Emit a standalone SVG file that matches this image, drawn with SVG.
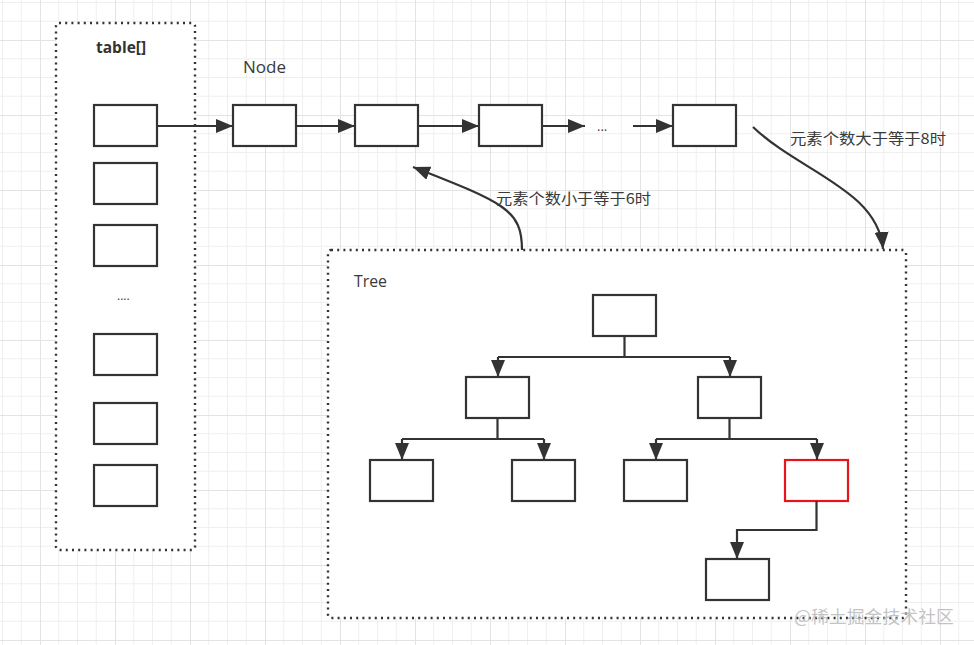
<svg xmlns="http://www.w3.org/2000/svg" width="974" height="645" viewBox="0 0 974 645">
<defs>
<pattern id="grid" x="40" y="40" width="75" height="75" patternUnits="userSpaceOnUse">
<path d="M18.75,0V75M37.5,0V75M56.25,0V75M0,18.75H75M0,37.5H75M0,56.25H75" stroke="#efefef" stroke-width="1" fill="none"/>
<path d="M0.5,0V75M0,0.5H75" stroke="#e3e3e3" stroke-width="1" fill="none"/>
</pattern>
<marker id="arr" markerUnits="userSpaceOnUse" markerWidth="18" markerHeight="14" refX="17" refY="7" orient="auto">
<path d="M0,0 L17,7 L0,14 z" fill="#333"/>
</marker>
<style>
.box{fill:#fff;stroke:#333;stroke-width:2.2}
.red{fill:#fff;stroke:#e8141b;stroke-width:2.2}
.group{fill:#fff;stroke:#333;stroke-width:2.4;stroke-dasharray:2 4.2}
.line{fill:none;stroke:#333;stroke-width:2.2}
.arrow{fill:none;stroke:#333;stroke-width:2.2;marker-end:url(#arr)}
.lbl{font-family:"Open Sans","Noto Sans",sans-serif;font-size:16px;fill:#3a3a3a}
.cjk{font-family:"Noto Sans CJK SC","Noto Sans",sans-serif;font-size:15px;fill:#3a3a3a}
</style>
</defs>
<rect width="974" height="645" fill="#fff"/>
<rect width="974" height="645" fill="url(#grid)"/>

<g id="table-group">
<rect class="group" x="56" y="23" width="139" height="527" rx="3"/>
<text x="96" y="53" style="font-family:'Open Sans','Noto Sans',sans-serif;font-size:15.5px;font-weight:bold;fill:#333">table[]</text>
</g>
<g id="table-0"><rect class="box" x="94" y="105" width="63" height="41"/></g>
<g id="table-1"><rect class="box" x="94" y="163" width="63" height="41"/></g>
<g id="table-2"><rect class="box" x="94" y="225" width="63" height="41"/></g>
<g id="table-dots"><text x="117" y="300" class="lbl" style="font-size:12px">....</text></g>
<g id="table-3"><rect class="box" x="94" y="334" width="63" height="41"/></g>
<g id="table-4"><rect class="box" x="94" y="403" width="63" height="41"/></g>
<g id="table-5"><rect class="box" x="94" y="465" width="63" height="41"/></g>

<g id="node-label"><text x="243" y="73" class="lbl" textLength="43" lengthAdjust="spacingAndGlyphs">Node</text></g>
<g id="node-1"><rect class="box" x="233" y="105" width="63" height="41"/></g>
<g id="node-2"><rect class="box" x="355" y="105" width="63" height="41"/></g>
<g id="node-3"><rect class="box" x="479" y="105" width="63" height="41"/></g>
<g id="node-ellipsis"><text x="597" y="131" class="lbl" style="font-size:13px">...</text></g>
<g id="node-n"><rect class="box" x="673" y="105" width="63" height="41"/></g>

<g id="tree-group">
<rect class="group" x="328" y="250" width="578" height="368" rx="3"/>
<text x="354" y="287" class="lbl" textLength="33" lengthAdjust="spacingAndGlyphs">Tree</text>
</g>
<g id="tree-root"><rect class="box" x="593" y="295" width="63" height="41"/></g>
<g id="tree-l"><rect class="box" x="466" y="377" width="63" height="41"/></g>
<g id="tree-r"><rect class="box" x="698" y="377" width="63" height="41"/></g>
<g id="tree-ll"><rect class="box" x="370" y="460" width="63" height="41"/></g>
<g id="tree-lr"><rect class="box" x="512" y="460" width="63" height="41"/></g>
<g id="tree-rl"><rect class="box" x="624" y="460" width="63" height="41"/></g>
<g id="tree-rr"><rect class="red" x="785" y="460" width="63" height="41"/></g>
<g id="tree-rrl"><rect class="box" x="706" y="559" width="63" height="41"/></g>

<g id="connectors">
<path class="arrow" d="M157,126 H233"/>
<path class="arrow" d="M296,126 H355"/>
<path class="arrow" d="M418,126 H479"/>
<path class="arrow" d="M542,126 H585"/>
<path class="arrow" d="M633,126 H673"/>
<path class="arrow" d="M753,127 C800,172 878,190 883,249"/>
<path class="arrow" d="M522,250 C522,210 505,203 413,167"/>
<path class="line" d="M624.5,336 V357 M498,357 H730"/>
<path class="arrow" d="M498,357 V377"/>
<path class="arrow" d="M730,357 V377"/>
<path class="line" d="M497.5,418 V439 M402,439 H544"/>
<path class="arrow" d="M402,439 V460"/>
<path class="arrow" d="M544,439 V460"/>
<path class="line" d="M729.5,418 V439 M656,439 H817"/>
<path class="arrow" d="M656,439 V460"/>
<path class="arrow" d="M817,439 V460"/>
<path class="arrow" d="M816.5,501 V530 H737 V559"/>
</g>

<g id="label-to-tree"><text x="790" y="144" class="cjk" textLength="156" lengthAdjust="spacingAndGlyphs">元素个数大于等于8时</text></g>
<g id="label-to-list"><text x="496" y="204" class="cjk" textLength="155" lengthAdjust="spacingAndGlyphs">元素个数小于等于6时</text></g>
<g id="watermark"><text x="794" y="623" style="font-family:'Noto Sans CJK SC','Noto Sans',sans-serif;font-size:17.5px;fill:#b8b8b8;fill-opacity:0.85" textLength="160" lengthAdjust="spacingAndGlyphs">@稀土掘金技术社区</text></g>
</svg>
